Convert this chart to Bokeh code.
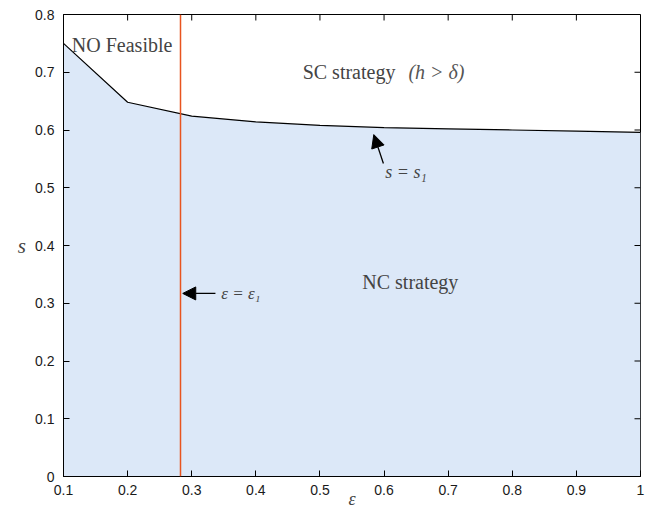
from bokeh.plotting import figure
from bokeh.models import (Range1d, FixedTicker, Span, Label, Arrow,
                          NormalHead, ColumnDataSource)
from bokeh.embed import file_html
from bokeh.resources import INLINE

# ---- data ----
eps = [0.1, 0.2, 0.3, 0.4, 0.5, 0.6, 0.7, 0.8, 0.9, 1.0]
s1 = [0.750, 0.648, 0.624, 0.614, 0.608, 0.604, 0.602, 0.600, 0.598, 0.596]
eps1 = 0.2825
x_ticks = [0.1, 0.2, 0.3, 0.4, 0.5, 0.6, 0.7, 0.8, 0.9, 1.0]
x_tick_labels = ["0.1", "0.2", "0.3", "0.4", "0.5", "0.6", "0.7", "0.8", "0.9", "1"]
y_ticks = [0, 0.1, 0.2, 0.3, 0.4, 0.5, 0.6, 0.7, 0.8]
y_tick_labels = ["0", "0.1", "0.2", "0.3", "0.4", "0.5", "0.6", "0.7", "0.8"]
x_min, x_max = 0.1, 1.0
y_min, y_max = 0.0, 0.8

src = ColumnDataSource(dict(x=eps, y=s1, y0=[y_min] * len(eps)))

p = figure(width=654, height=512, output_backend="svg", toolbar_location=None,
           x_range=Range1d(x_min, x_max), y_range=Range1d(y_min, y_max),
           min_border_left=63, min_border_right=14, min_border_top=14,
           min_border_bottom=36)
p.background_fill_color = "white"
p.border_fill_color = "white"
p.outline_line_color = "black"
p.outline_line_alpha = 1
p.grid.visible = False

p.varea(x="x", y1="y0", y2="y", source=src, fill_color="#DCE8F8")
p.line(x="x", y="y", source=src, line_color="black", line_width=1.2)

p.add_layout(Span(location=eps1, dimension="height", line_color="#E8541F",
                  line_width=1.5))

tick_font = "Liberation Sans"
for ax, ticks, labels in ((p.xaxis[0], x_ticks, x_tick_labels),
                          (p.yaxis[0], y_ticks, y_tick_labels)):
    ax.ticker = FixedTicker(ticks=ticks)
    ax.major_label_overrides = {t: l for t, l in zip(ticks, labels)}
    ax.major_tick_in = 6
    ax.major_tick_out = 0
    ax.minor_tick_line_color = None
    ax.axis_line_color = "black"
    ax.major_tick_line_color = "black"
    ax.major_label_text_font = tick_font
    ax.major_label_text_font_size = "14px"
    ax.major_label_text_color = "#1a1a1a"
    ax.major_label_standoff = 9

p.xaxis.major_label_standoff = 8
p.xaxis.axis_label = "ε"
p.xaxis.axis_label_text_font = "Liberation Serif"
p.xaxis.axis_label_text_font_style = "italic"
p.xaxis.axis_label_text_font_size = "18px"
p.xaxis.axis_label_standoff = -9

p.yaxis.axis_label = "s"
p.yaxis.axis_label_orientation = "horizontal"
p.yaxis.axis_label_text_font = "Liberation Serif"
p.yaxis.axis_label_text_font_style = "italic"
p.yaxis.axis_label_text_font_size = "21px"
p.yaxis.axis_label_standoff = 6

# tick marks on the top and right edges of the box
p.ray(x=x_ticks, y=[y_max] * len(x_ticks), length=6, length_units="screen",
      angle=-90, angle_units="deg", line_color="black", line_width=1)
p.ray(x=[x_max] * len(y_ticks), y=y_ticks, length=6, length_units="screen",
      angle=180, angle_units="deg", line_color="black", line_width=1)

serif = "Liberation Serif"
p.add_layout(Label(x=0.113, y=0.748, text="NO Feasible", text_font=serif,
                   text_font_size="20px", text_baseline="middle"))
p.add_layout(Label(x=0.473, y=0.700, text="SC strategy", text_font=serif,
                   text_font_size="20px", text_baseline="middle"))
p.add_layout(Label(x=0.638, y=0.700, text="(h > δ)", text_font=serif,
                   text_font_style="italic", text_color="#555555",
                   text_font_size="20px", text_baseline="middle"))
p.add_layout(Label(x=0.566, y=0.336, text="NC strategy", text_font=serif,
                   text_font_size="20px", text_baseline="middle"))
p.add_layout(Label(x=0.346, y=0.317, text="ε = ε₁", text_font=serif,
                   text_font_style="italic", text_color="#444444",
                   text_font_size="17px", text_baseline="middle"))
p.add_layout(Label(x=0.602, y=0.528, text="s = s₁", text_font=serif,
                   text_font_style="italic", text_color="#444444",
                   text_font_size="18px", text_baseline="middle"))

p.add_layout(Arrow(end=NormalHead(size=13, fill_color="black", line_color="black"),
                   x_start=0.337, y_start=0.317, x_end=0.286, y_end=0.317,
                   line_color="black", line_width=1.3))
p.add_layout(Arrow(end=NormalHead(size=13, fill_color="black", line_color="black"),
                   x_start=0.599, y_start=0.542, x_end=0.584, y_end=0.592,
                   line_color="black", line_width=1.3))

open("out.html", "w").write(file_html(p, INLINE))
